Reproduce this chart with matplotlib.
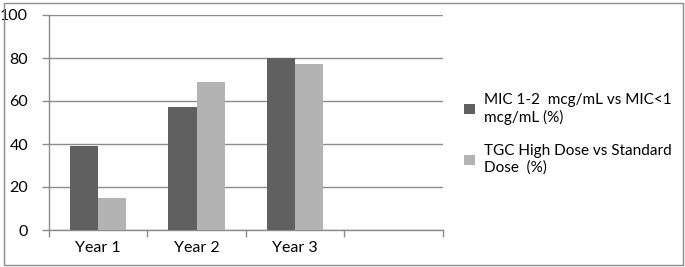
import matplotlib
matplotlib.use("Agg")
import matplotlib.pyplot as plt
import numpy as np
from matplotlib.patches import Rectangle

categories = ["Year 1", "Year 2", "Year 3", ""]
series_names = ["MIC 1-2  mcg/mL vs MIC<1\nmcg/mL (%)", "TGC High Dose vs Standard\nDose  (%)"]
mic_values = [39, 57, 80, np.nan]
tgc_values = [15, 69, 77, np.nan]
yticks = [0, 20, 40, 60, 80, 100]

plt.rcParams['font.family'] = ['Lato', 'DejaVu Sans']

fig = plt.figure(figsize=(6.85, 2.67), dpi=100)
ax = fig.add_axes([49/685, 1-230/267, (442.7-49)/685, (230-15)/267])

x = np.arange(len(categories))
w = 0.286
dark = "#606060"
light = "#b3b3b3"
ax.bar(x - w/2, mic_values, w, color=dark, label=series_names[0], zorder=3)
ax.bar(x + w/2, tgc_values, w, color=light, label=series_names[1], zorder=3)

ax.set_xlim(-0.5, len(categories) - 0.5)
ax.set_ylim(0, 100)
ax.set_yticks(yticks)
ax.set_yticklabels([str(v) for v in yticks], fontsize=11.5)
ax.yaxis.grid(True, color="#8c8c8c", linewidth=1, zorder=0)
ax.set_axisbelow(True)

ax.set_xticks(x)
ax.set_xticklabels(categories, fontsize=11.5)
ax.tick_params(axis='x', length=0, pad=8)
ax.set_xticks(np.arange(-0.5, len(categories), 1), minor=True)
ax.tick_params(axis='x', which='minor', length=5, color="#8c8c8c", width=1)
ax.tick_params(axis='y', length=5, color="#8c8c8c", width=1, pad=10)

for s in ["top", "right"]:
    ax.spines[s].set_visible(False)
for s in ["left", "bottom"]:
    ax.spines[s].set_color("#8c8c8c")
    ax.spines[s].set_linewidth(1)

leg = fig.legend(loc="upper left", bbox_to_anchor=(458/685, 1-87/267), frameon=False,
                 fontsize=11, handlelength=0.7, handleheight=0.7, handletextpad=0.6,
                 labelspacing=1.3, borderaxespad=0)

fig.patches.append(Rectangle((4/685, 2/267), (683-4)/685, (264-2)/267, transform=fig.transFigure,
                             fill=False, edgecolor="#8c8c8c", linewidth=1))

fig.savefig("out.png", dpi=100)
